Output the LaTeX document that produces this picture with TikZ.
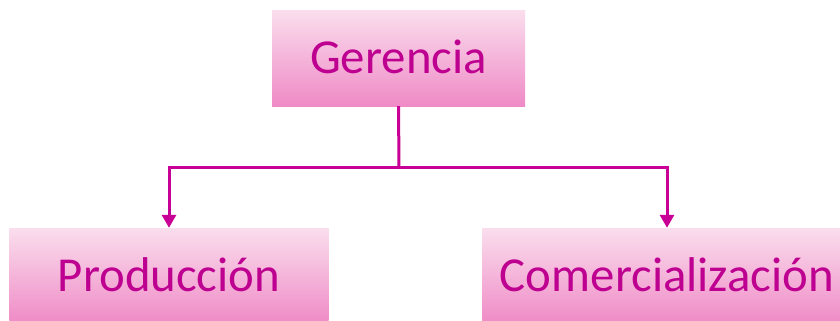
\documentclass[tikz,border=0pt]{standalone}
\usepackage{fontspec}
\setmainfont{Carlito}
\usetikzlibrary{arrows.meta}
\definecolor{txtmag}{RGB}{190,0,145}
\definecolor{linemag}{RGB}{200,0,150}
\definecolor{boxtop}{RGB}{250,222,237}
\definecolor{boxbot}{RGB}{239,138,198}
\tikzset{
  orgbox/.style={rectangle, draw=none, top color=boxtop, bottom color=boxbot,
    text=txtmag, font=\fontsize{49}{54}\selectfont, minimum height=96bp,
    text height=31bp, text depth=0pt, inner sep=0pt},
  conn/.style={draw=linemag, line width=3bp, -{Triangle[width=14bp,length=13bp]}}
}
\begin{document}
\begin{tikzpicture}[x=1bp,y=-1bp]
\useasboundingbox (0,0) rectangle (840,320);
\clip (0,0) rectangle (840,320);
\fill[white] (0,0) rectangle (840,320);
\node[orgbox, minimum width=253bp] (g) at (398.5,58) {Gerencia};
\node[orgbox, minimum width=319bp] (p) at (169,276) {Producción};
\node[orgbox, minimum width=370bp] (c) at (667,276) {Comercialización};
\coordinate (j) at (399,167);
\draw[draw=linemag, line width=3bp] (g.south) -- (j);
\draw[conn] (j) -| (p.north);
\draw[conn] (j) -| (c.north);
\end{tikzpicture}
\end{document}
